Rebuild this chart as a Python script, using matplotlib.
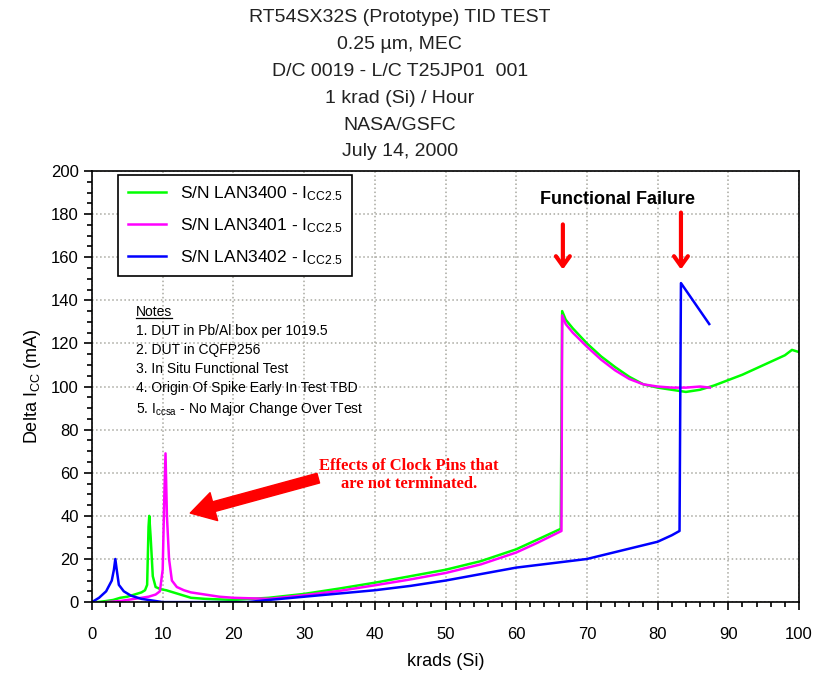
import matplotlib
matplotlib.use("Agg")
import matplotlib.pyplot as plt
from matplotlib.ticker import MultipleLocator

plt.rcParams['font.family'] = ['Liberation Sans', 'DejaVu Sans']
plt.rcParams['mathtext.default'] = 'regular'

# S/N LAN3400
x_3400 = [0.8, 2, 3, 4, 5, 6, 7, 7.5, 7.8, 8.0, 8.1, 8.3, 8.6, 9.0, 9.7, 10.5, 12, 14, 16, 20,
          25, 30, 35, 40, 45, 50, 55, 60, 63, 66.3, 66.5, 67, 68, 70, 72, 74, 76, 78, 80,
          82, 84, 86, 88, 90, 92, 94, 96, 98, 99, 100]
y_3400 = [0, 0.5, 1, 2, 2.5, 3.5, 4.5, 5.5, 8, 35, 40, 30, 12, 7, 6, 5.5, 4, 2, 1.5, 1,
          2, 3.8, 6.3, 9, 12, 15, 19, 24.5, 29, 34, 135, 131, 127, 120, 114, 109, 104.5, 101, 99.5,
          98.5, 97.5, 98.5, 100.5, 103, 105.5, 108.5, 111.5, 114.5, 117, 116]

# S/N LAN3401
x_3401 = [2, 4, 6, 8, 9, 9.6, 10.0, 10.2, 10.4, 10.6, 10.9, 11.3, 12, 13, 14, 16, 18, 20,
          25, 30, 35, 40, 45, 50, 55, 60, 63, 66.4, 66.5, 67, 68, 70, 72, 74, 76, 78, 80,
          82, 84, 86, 87.4]
y_3401 = [0, 0.5, 1.5, 2.5, 3.5, 5, 15, 45, 69, 40, 20, 10, 7, 5.5, 4.5, 3.5, 2.5, 2,
          1.5, 3.2, 5.2, 7.8, 10.5, 13.5, 17.5, 23, 27.5, 33, 133, 129, 125, 118.5, 112.5, 107.5, 103.5, 101, 100,
          99.5, 99.5, 100, 99.5]

# S/N LAN3402
x_3402 = [0, 1, 2, 2.8, 3.1, 3.3, 3.5, 3.8, 4.5, 5.5, 7, 9, 10, 20, 22, 25, 30, 35, 40, 45,
          50, 55, 60, 65, 70, 75, 80, 82, 83.1, 83.3, 87.3]
y_3402 = [0, 2, 5, 10, 15, 20, 15, 8, 5, 3, 1.5, 0.5, 0, 0, 0, 1, 2.5, 4, 5.5, 7.5,
          10, 13, 16, 18, 20, 24, 28, 31, 33, 148, 129]

notes = ["1. DUT in Pb/Al box per 1019.5",
         "2. DUT in CQFP256",
         "3. In Situ Functional Test",
         "4. Origin Of Spike Early In Test TBD",
         "5. I$_{ccsa}$ - No Major Change Over Test"]

title_lines = ["RT54SX32S (Prototype) TID TEST",
               "0.25 \u00b5m, MEC",
               "D/C 0019 - L/C T25JP01  001",
               "1 krad (Si) / Hour",
               "NASA/GSFC",
               "July 14, 2000"]

fig = plt.figure(figsize=(8.14, 6.75), dpi=100)
ax = fig.add_axes([0.113, 0.108, 0.8686, 0.6387])

ax.plot(x_3400, y_3400, color="#00ff00", lw=1.8, label="S/N LAN3400 - I$_{CC2.5}$")
ax.plot(x_3401, y_3401, color="#ff00ff", lw=1.8, label="S/N LAN3401 - I$_{CC2.5}$")
ax.plot(x_3402, y_3402, color="#0000ff", lw=1.8, label="S/N LAN3402 - I$_{CC2.5}$")

ax.set_xlim(0, 100)
ax.set_ylim(0, 200)
ax.xaxis.set_major_locator(MultipleLocator(10))
ax.xaxis.set_minor_locator(MultipleLocator(2))
ax.yaxis.set_major_locator(MultipleLocator(20))
ax.yaxis.set_minor_locator(MultipleLocator(5))
ax.tick_params(which='major', direction='out', length=6, width=1.2, labelsize=12, colors='black')
ax.tick_params(which='minor', direction='out', length=3.5, width=1.2)
ax.tick_params(axis='x', pad=12)
ax.grid(True, which='major', linestyle=':', color='#a8a8a0', lw=1.1)
for s in ax.spines.values():
    s.set_linewidth(1.2)

ax.set_xlabel("krads (Si)", fontsize=13, labelpad=8)
ax.set_ylabel("Delta I$_{CC}$ (mA)", fontsize=13, labelpad=6)

# title, one line at a time (27 px apart)
for i, line in enumerate(title_lines):
    fig.text(0.491, 1 - (18 + 26.8 * i) / 675, line, ha='center', va='center',
             fontsize=14, color='#222222')

leg = ax.legend(loc='upper left', bbox_to_anchor=(0.037, 0.991), borderaxespad=0,
                fontsize=12.5, fancybox=False, edgecolor='black', framealpha=1,
                handlelength=2.2, borderpad=0.55, labelspacing=0.75)
leg.get_frame().set_linewidth(1.2)

# notes block
nt = ax.text(6.2, 137.8, "Notes", fontsize=10, va='top', ha='left')
for i, line in enumerate(notes):
    ax.text(6.2, 129 - 8.8 * i, line, fontsize=10, va='top', ha='left')
fig.canvas.draw()
bb = nt.get_window_extent(fig.canvas.get_renderer())
inv = ax.transData.inverted()
(ux0, uy), (ux1, _) = inv.transform([(bb.x0, bb.y0 + 1), (bb.x1, bb.y0 + 1)])
ax.plot([ux0, ux1], [uy, uy], color='black', lw=0.9)

# annotations
ax.text(74.3, 187, "Functional Failure", fontsize=13, fontweight='bold', ha='center', va='center')
for xa, ytop in [(66.6, 176.5), (83.3, 182)]:
    ax.annotate("", xy=(xa, 153), xytext=(xa, ytop),
                arrowprops=dict(arrowstyle='->,head_length=0.7,head_width=0.5', color='red', lw=3))

ax.text(44.8, 59, "Effects of Clock Pins that\nare not terminated.", fontsize=12,
        fontweight='bold', family=['Liberation Serif', 'DejaVu Serif'], color='red',
        ha='center', va='center', linespacing=1.2)
ax.annotate("", xy=(13.9, 41.3), xytext=(32, 57.5),
            arrowprops=dict(arrowstyle='simple,head_length=1.1,head_width=1.3,tail_width=0.45',
                            fc='red', ec='red', mutation_scale=16, shrinkA=0, shrinkB=0))

fig.savefig("out.png", dpi=100)
